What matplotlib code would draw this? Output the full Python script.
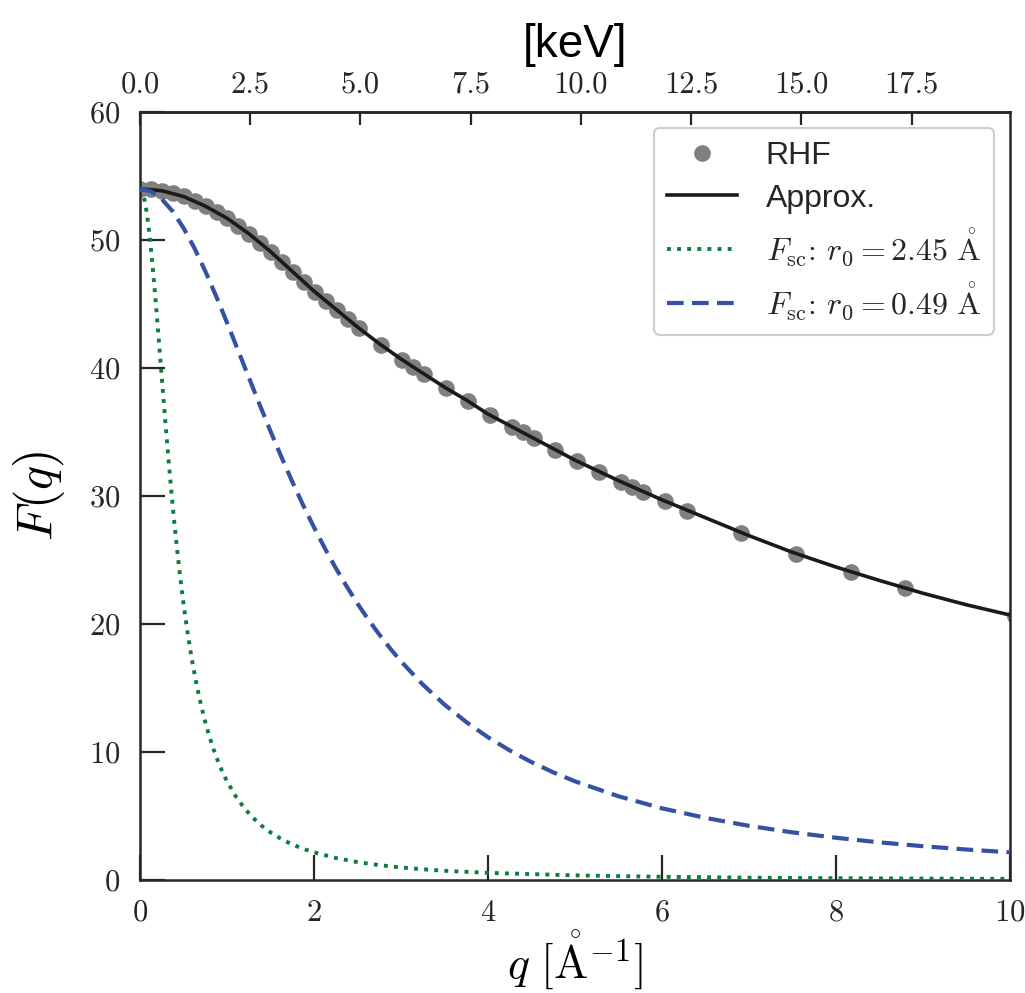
import numpy as np
import matplotlib
matplotlib.use('Agg')
import matplotlib.pyplot as plt
from matplotlib.ticker import MultipleLocator, FixedLocator, FormatStrFormatter

plt.rcParams.update({
    'font.family': 'serif',
    'font.serif': ['cmr10'],
    'mathtext.fontset': 'cm',
    'axes.formatter.use_mathtext': True,
    'axes.unicode_minus': False,
    'axes.edgecolor': '#262626',
    'axes.linewidth': 1.8,
    'xtick.color': '#262626',
    'ytick.color': '#262626',
    'text.color': '#262626',
})

HBARC = 1.97327  # keV * Angstrom, q -> photon energy

# Xe form factor, RHF tabulated values
q_rhf = [0.0, 0.126, 0.251, 0.377, 0.503, 0.628, 0.754, 0.880, 1.005, 1.131,
         1.257, 1.382, 1.508, 1.634, 1.759, 1.885, 2.011, 2.136, 2.262, 2.388,
         2.513, 2.765, 3.016, 3.142, 3.267, 3.519, 3.770, 4.021, 4.273, 4.398,
         4.524, 4.775, 5.027, 5.278, 5.529, 5.655, 5.781, 6.032, 6.283, 6.912,
         7.540, 8.168, 8.796, 10.053]
f_rhf = [54.0, 53.95, 53.85, 53.65, 53.4, 53.05, 52.65, 52.2, 51.7, 51.1,
         50.45, 49.8, 49.05, 48.3, 47.5, 46.7, 45.9, 45.2, 44.5, 43.8,
         43.1, 41.8, 40.6, 40.1, 39.5, 38.4, 37.4, 36.3, 35.4, 35.0,
         34.5, 33.6, 32.7, 31.9, 31.1, 30.7, 30.3, 29.6, 28.85, 27.1,
         25.5, 24.1, 22.8, 20.6]

# fitted approximation
q_fit = [0.0, 0.25, 0.5, 0.75, 1.0, 1.25, 1.5, 1.75, 2.0, 2.25, 2.5, 2.75,
         3.0, 3.25, 3.5, 3.75, 4.0, 4.5, 5.0, 5.5, 6.0, 6.5, 7.0, 7.5, 8.0,
         8.5, 9.0, 9.5, 10.0]
f_fit = [54.0, 53.85, 53.4, 52.65, 51.7, 50.5, 49.1, 47.55, 46.0, 44.6, 43.2, 41.9,
         40.7, 39.6, 38.5, 37.5, 36.4, 34.6, 32.8, 31.2, 29.7, 28.3, 26.9, 25.6, 24.45,
         23.4, 22.4, 21.5, 20.7]

# screened Coulomb, r0 = 2.45 A
q_sc1 = [0.0, 0.025, 0.05, 0.075, 0.1, 0.125, 0.15, 0.175, 0.2, 0.225, 0.25, 0.275,
         0.3, 0.325, 0.35, 0.375, 0.4, 0.425, 0.45, 0.475, 0.5, 0.525, 0.55, 0.575,
         0.6, 0.65, 0.7, 0.75, 0.8, 0.85, 0.9, 0.95, 1.0, 1.1, 1.2, 1.3, 1.4, 1.5,
         1.6, 1.7, 1.8, 1.9, 2.0, 2.25, 2.5, 2.75, 3.0, 3.25, 3.5, 4.0, 5.0, 6.0,
         7.0, 8.0, 9.0, 10.0]
f_sc1 = [54.0, 53.80, 53.20, 52.24, 50.94, 49.37, 47.57, 45.61, 43.55, 41.41, 39.27, 37.14,
         35.06, 33.05, 31.12, 29.28, 27.55, 25.91, 24.37, 22.94, 21.59, 20.34, 19.18, 18.09,
         17.08, 15.27, 13.70, 12.34, 11.15, 10.12, 9.21, 8.41, 7.71, 6.54, 5.60, 4.85, 4.23, 3.72,
         3.30, 2.94, 2.64, 2.38, 2.16, 1.72, 1.40, 1.16, 0.98, 0.84, 0.72, 0.56, 0.36, 0.25,
         0.18, 0.14, 0.11, 0.09]

# screened Coulomb, r0 = 0.49 A
q_sc2 = [0.0, 0.125, 0.25, 0.375, 0.5, 0.625, 0.75, 0.875, 1.0, 1.125, 1.25, 1.375,
         1.5, 1.625, 1.75, 1.875, 2.0, 2.125, 2.25, 2.375, 2.5, 2.625, 2.75, 2.875,
         3.0, 3.25, 3.5, 3.75, 4.0, 4.25, 4.5, 4.75, 5.0, 5.5, 6.0, 6.5, 7.0, 7.5,
         8.0, 8.5, 9.0, 9.5, 10.0]
f_sc2 = [54.0, 53.80, 53.20, 52.24, 50.94, 49.37, 47.57, 45.61, 43.55, 41.41, 39.27, 37.14,
         35.06, 33.05, 31.12, 29.28, 27.55, 25.91, 24.37, 22.94, 21.59, 20.34, 19.18, 18.09,
         17.08, 15.27, 13.70, 12.34, 11.15, 10.12, 9.21, 8.41, 7.71, 6.54, 5.60, 4.85, 4.23, 3.72,
         3.30, 2.94, 2.64, 2.38, 2.16]

# energy ticks shown on the top axis
kev_ticks = [0.0, 2.5, 5.0, 7.5, 10.0, 12.5, 15.0, 17.5]

fig = plt.figure(figsize=(10.25, 9.93), dpi=100)
ax = fig.add_axes([0.1366, 0.1138, 0.8488, 0.7734])

ax.plot(q_rhf, f_rhf, 'o', color='#808080', ms=12, mec='none', label='RHF', zorder=2)
ax.plot(q_fit, f_fit, '-', color='#1a1a1a', lw=2.6, label='Approx.', zorder=3)
ax.plot(q_sc1, f_sc1, color='#0b7d3e', lw=2.8, linestyle=(0, (1, 1.6)),
        label=r'$F_{\mathrm{sc}}$: $r_0 = 2.45\ \mathring{\mathrm{A}}$', zorder=3)
ax.plot(q_sc2, f_sc2, color='#3451a3', lw=3.0, linestyle=(0, (4, 2)),
        label=r'$F_{\mathrm{sc}}$: $r_0 = 0.49\ \mathring{\mathrm{A}}$', zorder=3)

ax.set_xlim(0, 10)
ax.set_ylim(0, 60)
ax.xaxis.set_major_locator(MultipleLocator(2))
ax.yaxis.set_major_locator(MultipleLocator(10))
ax.tick_params(direction='in', length=18, width=1.6, labelsize=22, pad=14,
               top=False, right=False)

# energy scale on top
sec = ax.secondary_xaxis('top', functions=(lambda q: q * HBARC, lambda e: e / HBARC))
sec.xaxis.set_major_locator(FixedLocator(kev_ticks))
sec.xaxis.set_major_formatter(FormatStrFormatter('%.1f'))
sec.tick_params(direction='in', length=9, width=1.6, labelsize=22, pad=10)
sec.set_xlabel('[keV]', fontsize=33, family='Liberation Sans', labelpad=10)

ax.set_ylabel(r'$F(q)$', fontsize=36)
ax.set_xlabel(r'$q\ [\mathring{\mathrm{A}}^{-1}]$', fontsize=33)
ax.yaxis.set_label_coords(-0.084, 0.5)
ax.xaxis.set_label_coords(0.5, -0.064)

leg = ax.legend(loc='upper right', prop={'family': 'Liberation Sans', 'size': 23},
                frameon=True, fancybox=True, framealpha=1, edgecolor='#cccccc',
                handlelength=2.2, handletextpad=0.9, borderpad=0.4,
                labelspacing=0.4, borderaxespad=0.5)
leg.get_frame().set_linewidth(1.5)
# colon and spacing of the screened-Coulomb entries in the serif face
for txt in leg.get_texts()[2:]:
    txt.set_family('cmr10')

fig.savefig('out.png', dpi=100)
